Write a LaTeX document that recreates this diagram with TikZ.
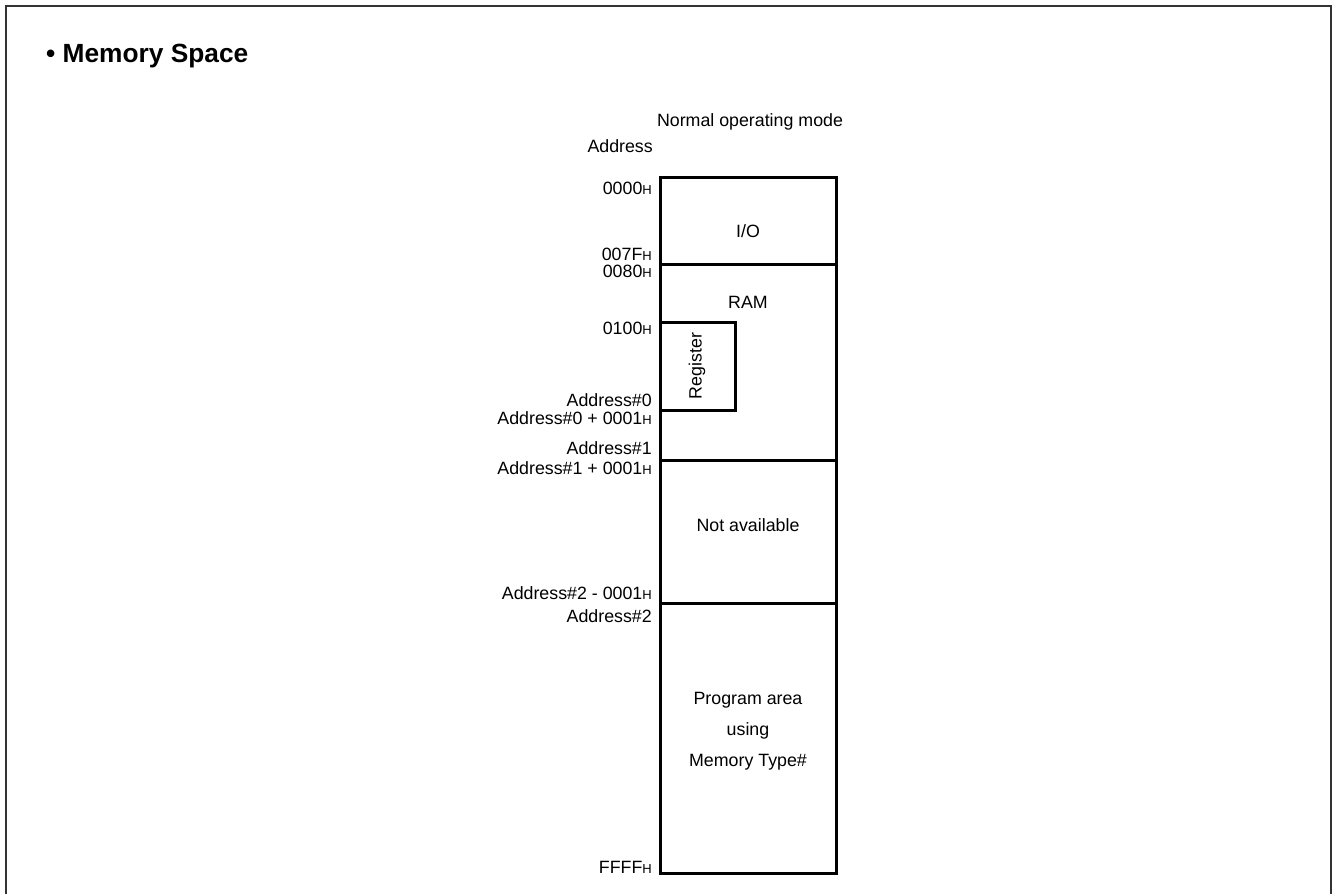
\documentclass[tikz,border=0pt]{standalone}
\usepackage{fontspec}
\setmainfont{Liberation Sans}
\newcommand{\hsuf}{{\fontsize{13}{13}\selectfont H}}
\tikzset{
  addr/.style={anchor=base east, inner sep=0pt, font=\fontsize{17.8}{21}\selectfont},
  area/.style={inner sep=0pt, font=\fontsize{17.8}{31}\selectfont, align=center},
  mapline/.style={line width=3pt},
}
\begin{document}
\begin{tikzpicture}[x=1pt,y=-1pt]
\useasboundingbox (0,0) rectangle (1334,894);
%%%%%frame and heading
\draw[line width=2pt, black!80] (6,894) -- (6,6) -- (1331,6) -- (1331,894);
\node[anchor=base west, inner sep=0pt, font=\fontsize{26.3}{30}\selectfont\bfseries] (title) at (46,62) {\textbullet\ Memory Space};

%%%%%memory map starts here
\def\xl{660}
\def\xr{836}
\def\yt{177}
\def\yb{873}

\draw[mapline] (\xl,\yt) rectangle (\xr,\yb);
\foreach \y in {264,460,603} \draw[mapline] (\xl,\y) -- (\xr,\y);
\draw[mapline] (\xl,322) -- (735,322) -- (735,410) -- (\xl,410);

\node[area] (io) at (748,231) {I/O};
\node[area] (ram) at (748,302) {RAM};
\node[area, rotate=90] (reg) at (697,366) {Register};
\node[area] (na) at (748,525) {Not available};
\node[area] (prog) at (748,731) {Program area\\using\\Memory Type\#};

\node[anchor=base, inner sep=0pt, font=\fontsize{17.8}{21}\selectfont] (mode) at (750,126) {Normal operating mode};
\node[addr] (addrhead) at (653,152) {Address};

\foreach \lbl/\yy [count=\i] in {0000\hsuf/194, 007F\hsuf/260, 0080\hsuf/277, 0100\hsuf/334,
  Address\#0/406, Address\#0 + 0001\hsuf/424, Address\#1/454, Address\#1 + 0001\hsuf/474,
  Address\#2 - 0001\hsuf/599, Address\#2/622, FFFF\hsuf/873}
  \node[addr] (addr\i) at (652,\yy) {\lbl};
%%%%%memory map ends here
\end{tikzpicture}
\end{document}
